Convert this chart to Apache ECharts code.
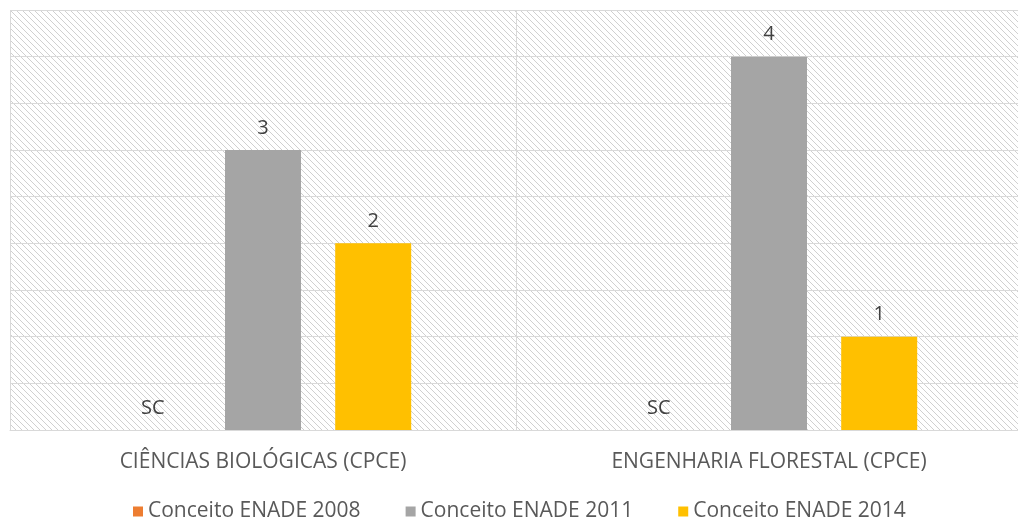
<!DOCTYPE html>
<html>
<head>
<meta charset="utf-8">
<script src="https://cdn.jsdelivr.net/npm/echarts@6/dist/echarts.min.js"></script>
<style>
  html, body { margin: 0; padding: 0; background: #fff; }
  #main { width: 1018px; height: 523px; }
</style>
</head>
<body>
<div id="main"></div>
<script>
const categories = ['CIÊNCIAS BIOLÓGICAS (CPCE)', 'ENGENHARIA FLORESTAL (CPCE)']
const seriesNames = ['Conceito ENADE 2008', 'Conceito ENADE 2011', 'Conceito ENADE 2014']
const values2008 = [0, 0]
const values2011 = [3, 4]
const values2014 = [2, 1]
const labels2008 = ['SC', 'SC']

// diagonal hatch for the plot background
const makeHatch = () => {
  const size = 6
  const cv = document.createElement('canvas')
  cv.width = size
  cv.height = size
  const ctx = cv.getContext('2d')
  ctx.fillStyle = '#ffffff'
  ctx.fillRect(0, 0, size, size)
  ctx.strokeStyle = '#d0d0d0'
  ctx.lineWidth = 1
  ctx.beginPath()
  ctx.moveTo(-1, -1)
  ctx.lineTo(size + 1, size + 1)
  ctx.moveTo(-1, size - 1)
  ctx.lineTo(1, size + 1)
  ctx.moveTo(size - 1, -1)
  ctx.lineTo(size + 1, 1)
  ctx.stroke()
  return cv
}

const font = '"Open Sans", sans-serif'
const labelStyle = {
  show: true,
  position: 'top',
  distance: 12,
  fontSize: 20,
  color: '#404040',
  fontFamily: font
}

const chart = echarts.init(document.getElementById('main'))

const option = {
  color: ['#ED7D31', '#A5A5A5', '#FFC000'],
  grid: {
    left: 10,
    width: 1012,
    top: 10,
    bottom: 93,
    show: true,
    borderWidth: 0,
    outerBoundsMode: 'none',
    backgroundColor: { image: makeHatch(), repeat: 'repeat' }
  },
  legend: {
    data: seriesNames,
    bottom: -4,
    left: 128,
    itemWidth: 10,
    itemHeight: 10,
    itemGap: 45,
    icon: 'rect',
    textStyle: { fontSize: 21, color: '#595959', fontFamily: font }
  },
  xAxis: {
    type: 'category',
    data: categories,
    axisTick: { show: false },
    axisLine: { lineStyle: { color: '#d9d9d9' } },
    splitLine: { show: true, lineStyle: { color: '#d9d9d9' } },
    axisLabel: { fontSize: 21, color: '#595959', margin: 22, fontFamily: font }
  },
  yAxis: {
    type: 'value',
    min: 0,
    max: 4.5,
    interval: 0.5,
    axisLabel: { show: false },
    axisLine: { show: false },
    axisTick: { show: false },
    splitLine: { lineStyle: { color: '#d9d9d9' } }
  },
  series: [
    {
      name: seriesNames[0],
      type: 'bar',
      barWidth: 76,
      barGap: '45%',
      data: values2008,
      label: { ...labelStyle, formatter: (p) => labels2008[p.dataIndex] }
    },
    {
      name: seriesNames[1],
      type: 'bar',
      barWidth: 76,
      barGap: '45%',
      data: values2011,
      label: labelStyle
    },
    {
      name: seriesNames[2],
      type: 'bar',
      barWidth: 76,
      barGap: '45%',
      data: values2014,
      label: labelStyle
    }
  ]
}

chart.setOption(option)
</script>
</body>
</html>
